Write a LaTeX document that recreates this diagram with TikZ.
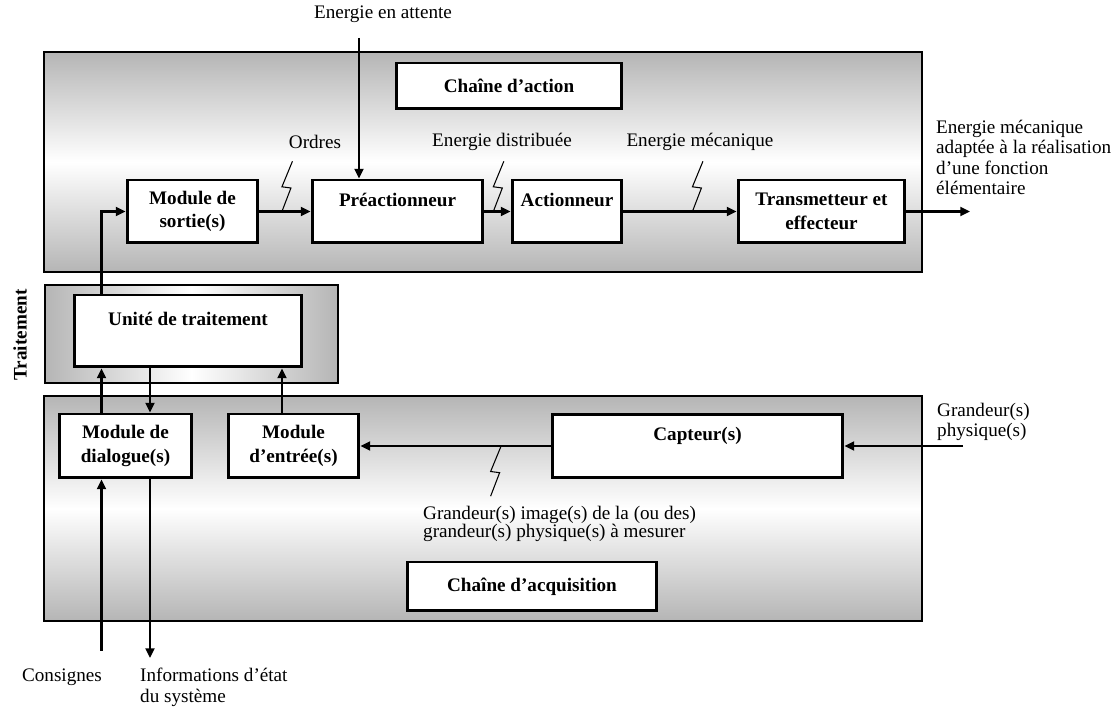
\documentclass[tikz,border=0pt]{standalone}
\usepackage{fontspec}
\setmainfont{Liberation Serif}
\usetikzlibrary{arrows.meta, calc}
\definecolor{panelGrey}{gray}{0.71}
\newcommand{\Eclair}[1]{
	\draw[line width=0.6pt] (#1) -- ++(9,-23.5) -- ++(-9,-1.2) -- ++(10.5,-25.5);
}

\begin{document}
\begin{tikzpicture}[x=0.02cm, y=-0.02cm, line join=miter,
	font=\fontsize{10.9}{11.6}\selectfont,
	bloc/.style={draw, line width=1.7pt, fill=white, align=center, inner sep=0pt,
		font=\fontsize{10.9}{13.3}\selectfont\bfseries},
	fleche/.style={line width=1.7pt, -{Triangle[length=5.5pt, width=5pt]}},
	panneau/.style={draw=black, line width=1.7pt, top color=panelGrey, bottom color=panelGrey, middle color=white},
	panneauH/.style={draw=black, line width=1.7pt, left color=panelGrey, right color=panelGrey, middle color=white}]

	\useasboundingbox (0,0) rectangle (1117,709);

	% les trois zones
	\shadedraw[panneau] (44,52) rectangle (922,272);
	\shadedraw[panneauH] (45,285) rectangle (338,383);
	\shadedraw[panneau] (44,396) rectangle (922,621);

	% chaine d'action
	\node[bloc, minimum width=4.52cm, minimum height=0.92cm] (titreAction) at (509,86) {Chaîne d’action};
	\node[bloc, minimum width=2.62cm, minimum height=1.26cm] (sortie) at (192.5,211.5) {Module de\\sortie(s)};
	\node[bloc, minimum width=3.42cm, minimum height=1.26cm] (preact) at (397.5,211.5) {Préactionneur\\\mbox{}};
	\node[bloc, minimum width=2.2cm, minimum height=1.26cm] (actionneur) at (567,211.5) {Actionneur\\\mbox{}};
	\node[bloc, minimum width=3.34cm, minimum height=1.26cm] (transm) at (821.5,211.5) {Transmetteur et\\effecteur};

	% traitement
	\node[bloc, minimum width=4.56cm, minimum height=1.44cm] (unite) at (188,331) {Unité de traitement\\\mbox{}};
	\node[rotate=90, font=\fontsize{10.9}{13.3}\selectfont\bfseries] (traitLabel) at (20,335) {Traitement};

	% chaine d'acquisition
	\node[bloc, minimum width=2.66cm, minimum height=1.28cm] (dialogue) at (125.5,446) {Module de\\dialogue(s)};
	\node[bloc, minimum width=2.62cm, minimum height=1.28cm] (entree) at (293.5,446) {Module\\d’entrée(s)};
	\node[bloc, minimum width=5.82cm, minimum height=1.26cm] (capteur) at (697.5,446) {Capteur(s)\\\mbox{}};
	\node[bloc, minimum width=5cm, minimum height=0.98cm] (titreAcq) at (532,586.5) {Chaîne d’acquisition};

	% textes
	\node (enAttente) at (383,14) {Energie en attente};
	\node (ordres) at (315,142) {Ordres};
	\node (distribuee) at (502,142) {Energie distribuée};
	\node (mecanique) at (700,142) {Energie mécanique};
	\node[anchor=west, align=left, font=\fontsize{10.9}{11.6}\selectfont] (adaptee) at (930,157.5)
		{Energie mécanique\\adaptée à la réalisation\\d’une fonction\\élémentaire};
	\node[anchor=west, align=left, font=\fontsize{10.9}{11.4}\selectfont] (physique) at (931,422) {Grandeur(s)\\physique(s)};
	\node[anchor=west, align=left, font=\fontsize{10.9}{10.4}\selectfont] (image) at (417,524)
		{Grandeur(s) image(s) de la (ou des)\\grandeur(s) physique(s) à mesurer};
	\node (consignes) at (62,677) {Consignes};
	\node[anchor=west, align=left, font=\fontsize{10.9}{11.9}\selectfont] (infoEtat) at (134,687.5)
		{Informations d’état\\du système};

	% colonnes des liaisons verticales
	\coordinate (colA) at (101.5,0);
	\coordinate (colB) at (150,0);
	\coordinate (colC) at (282,0);
	\coordinate (attenteHaut) at (359,38);
	\coordinate (sortieFin) at (970,211.5);
	\coordinate (physEntree) at (963,446);
	\coordinate (consBas) at (101.5,651);
	\coordinate (infoBas) at (150,658);

	\draw[fleche] (attenteHaut) -- (attenteHaut |- preact.north);
	\draw[fleche] (sortie.east) -- (preact.west);
	\draw[fleche] (preact.east) -- (actionneur.west);
	\draw[fleche] (actionneur.east) -- (transm.west);
	\draw[fleche] (transm.east) -- (sortieFin);

	\draw[fleche] (colA |- unite.north) |- (sortie.west);
	\draw[fleche] (colA |- dialogue.north) -- (colA |- unite.south);
	\draw[fleche] (colB |- unite.south) -- (colB |- dialogue.north);
	\draw[fleche] (colC |- entree.north) -- (colC |- unite.south);
	\draw[fleche] (capteur.west) -- (entree.east);
	\draw[fleche] (physEntree) -- (capteur.east);
	\draw[fleche] (consBas) -- (colA |- dialogue.south);
	\draw[fleche] (colB |- dialogue.south) -- (infoBas);

	% eclairs
	\Eclair{$(sortie.east)!0.44!(preact.west)$}
	\Eclair{$(preact.east)!0.34!(actionneur.west)$}
	\Eclair{$(actionneur.east)!0.61!(transm.west)$}
	\Eclair{$(capteur.west)!0.26!(entree.east) + (-10.5,50.2)$}

\end{tikzpicture}
\end{document}
